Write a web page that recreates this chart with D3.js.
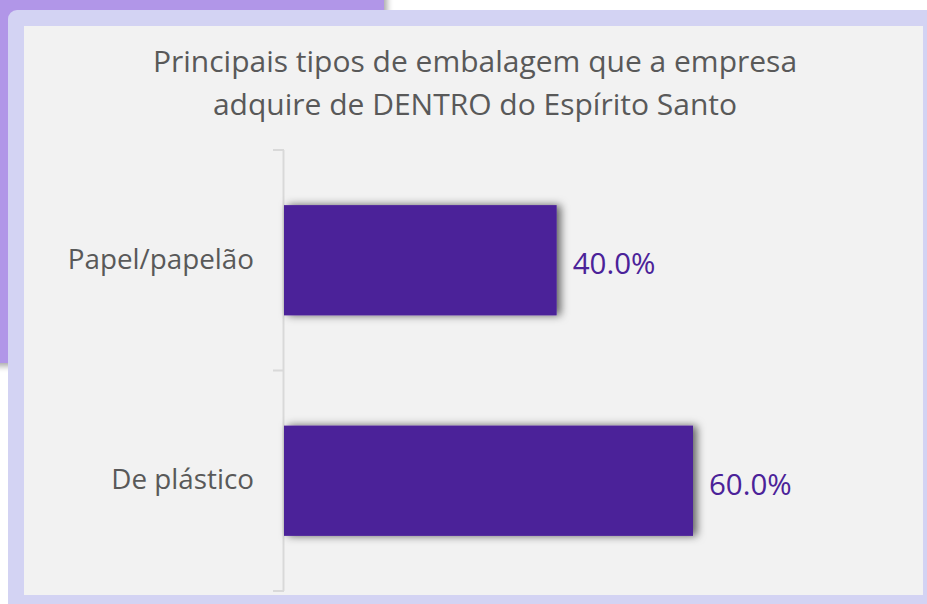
<!DOCTYPE html>
<html>
<head>
<meta charset="utf-8">
<script src="https://cdn.jsdelivr.net/npm/d3@7"></script>
<style>
  body { margin: 0; background: #fff; }
  svg { display: block; font-family: "Open Sans", "Noto Sans", sans-serif; }
</style>
</head>
<body>
<script>
(function (d3) {
  'use strict';

  const W = 927, H = 604;

  // data
  const categories = ["Papel/papelão", "De plástico"];
  const values = [0.40, 0.60];
  const titleLines = ["Principais tipos de embalagem que a empresa", "adquire de DENTRO do Espírito Santo"];

  const data = categories.map((c, i) => ({cat: c, value: values[i]}));

  const svg = d3.select("body").append("svg")
    .attr("width", W)
    .attr("height", H);

  const defs = svg.append("defs");
  defs.append("filter").attr("id", "barShadow")
      .attr("x", "-10%").attr("y", "-30%").attr("width", "130%").attr("height", "160%")
    .append("feDropShadow")
      .attr("dx", 4).attr("dy", 0).attr("stdDeviation", 4.5)
      .attr("flood-color", "#000").attr("flood-opacity", 0.6);
  defs.append("filter").attr("id", "bgShadow")
      .attr("x", "-10%").attr("y", "-10%").attr("width", "130%").attr("height", "130%")
    .append("feDropShadow")
      .attr("dx", 3).attr("dy", 3).attr("stdDeviation", 3)
      .attr("flood-color", "#000").attr("flood-opacity", 0.35);

  // slide background bits
  svg.append("rect")
    .attr("x", -10).attr("y", -10).attr("width", 394).attr("height", 373)
    .attr("fill", "#b196e8")
    .attr("filter", "url(#bgShadow)");

  svg.append("rect")
    .attr("x", 8).attr("y", 10).attr("width", 940).attr("height", 620)
    .attr("rx", 9)
    .attr("fill", "#d3d3f3");

  svg.append("rect")
    .attr("x", 24).attr("y", 26).attr("width", 899).attr("height", 569)
    .attr("fill", "#f2f2f2");

  // title
  svg.append("text")
    .attr("x", 475).attr("y", 72)
    .attr("text-anchor", "middle")
    .attr("fill", "#595959")
    .style("font-size", "30px")
    .selectAll("tspan")
    .data(titleLines)
    .join("tspan")
      .attr("x", 475)
      .attr("dy", (d, i) => i === 0 ? 0 : 43)
      .text(d => d);

  // scales
  const x = d3.scaleLinear()
    .domain([0, 0.6])
    .range([284, 693]);

  const y = d3.scaleBand()
    .domain(categories)
    .range([150, 591])
    .paddingInner(0.5)
    .paddingOuter(0.25);

  // category axis (labels only, line drawn below)
  const yAxis = svg.append("g")
    .attr("transform", "translate(283,0)")
    .call(d3.axisLeft(y).tickSize(0).tickPadding(29));
  yAxis.select(".domain").remove();
  yAxis.selectAll("text")
    .attr("fill", "#595959")
    .attr("dy", "0.3em")
    .style("font-family", "'Open Sans', sans-serif")
    .style("font-size", "27.8px");

  // axis line and boundary ticks
  const [y0, y1] = y.range();
  const bounds = d3.range(categories.length + 1).map(i => y0 + i * (y1 - y0) / categories.length);
  svg.append("line")
    .attr("x1", 283.5).attr("x2", 283.5)
    .attr("y1", y0).attr("y2", y1)
    .attr("stroke", "#d9d9d9").attr("stroke-width", 2);
  svg.append("g").selectAll("line")
    .data(bounds)
    .join("line")
      .attr("x1", 273).attr("x2", 284)
      .attr("y1", d => d).attr("y2", d => d)
      .attr("stroke", "#d9d9d9").attr("stroke-width", 2);

  // bars
  svg.append("g").selectAll("rect")
    .data(data)
    .join("rect")
      .attr("x", x(0))
      .attr("y", d => y(d.cat))
      .attr("width", d => x(d.value) - x(0))
      .attr("height", y.bandwidth())
      .attr("fill", "#4b2299")
      .attr("filter", "url(#barShadow)");

  // value labels
  svg.append("g").selectAll("text")
    .data(data)
    .join("text")
      .attr("x", d => x(d.value) + 16)
      .attr("y", d => y(d.cat) + y.bandwidth() / 2)
      .attr("dy", "0.48em")
      .attr("fill", "#4b2299")
      .style("font-size", "29.5px")
      .text(d => d3.format(".1%")(d.value));

}(d3));
</script>
</body>
</html>
